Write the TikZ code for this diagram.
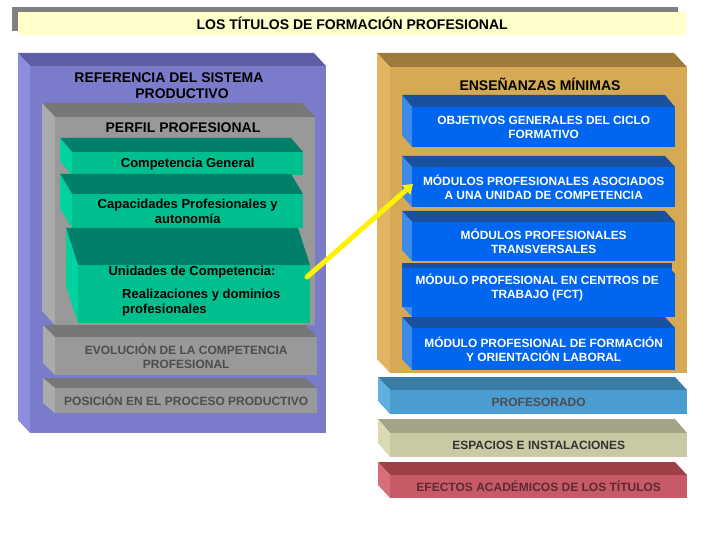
\documentclass[tikz,border=0pt]{standalone}
\usepackage{fontspec}
\setmainfont{Liberation Sans}
\usetikzlibrary{arrows.meta}
\definecolor{purF}{HTML}{7B7BCB}\definecolor{purT}{HTML}{5E5EA6}\definecolor{purL}{HTML}{8C8CE0}
\definecolor{gryF}{HTML}{999999}\definecolor{gryT}{HTML}{777777}\definecolor{gryL}{HTML}{ABABAB}
\definecolor{grnF}{HTML}{00BF8F}\definecolor{grnT}{HTML}{008068}\definecolor{grnL}{HTML}{00D2A0}
\definecolor{gldF}{HTML}{D6A954}\definecolor{gldT}{HTML}{A07A3A}\definecolor{gldL}{HTML}{E3B563}
\definecolor{bluF}{HTML}{0066F0}\definecolor{bluT}{HTML}{1A50A0}\definecolor{bluL}{HTML}{3D8BE8}
\definecolor{proF}{HTML}{4B9CD0}\definecolor{proT}{HTML}{3B7CA6}\definecolor{proL}{HTML}{5FB0E0}
\definecolor{espF}{HTML}{C9C9A3}\definecolor{espT}{HTML}{A3A387}\definecolor{espL}{HTML}{DADAB4}
\definecolor{efeF}{HTML}{C75A66}\definecolor{efeT}{HTML}{9E4048}\definecolor{efeL}{HTML}{D86E78}
\definecolor{titY}{HTML}{FFFFCC}\definecolor{titG}{HTML}{808080}
\definecolor{dkgray}{HTML}{4D4D4D}
\newcommand\bx[9]{%
  \fill[#8T] (#2-#6,#3-#7) -- (#4-#6,#3-#7) -- (#4,#3) -- (#2,#3) -- cycle;
  \fill[#8L] (#2-#6,#3-#7) -- (#2,#3) -- (#2,#5) -- (#2-#6,#5-#7) -- cycle;
  \node[face, fill=#8F, minimum width=#4-#2, minimum height=#5-#3, anchor=north west] (#1) at (#2,#3) {#9};
}
\tikzset{
  face/.style={inner sep=0pt, draw=none, align=center},
  bigtxt/.style={font=\fontsize{14}{16}\selectfont\bfseries, align=center, inner sep=0pt},
  grntxt/.style={font=\fontsize{13}{15}\selectfont\bfseries, text=black},
  blutxt/.style={font=\fontsize{11.9}{14}\selectfont\bfseries, text=white},
  grytxt/.style={font=\fontsize{12}{14}\selectfont\bfseries, text=dkgray},
  arrowY/.style={draw=yellow, line width=5pt, line cap=round, -{Triangle[length=9pt,width=12pt]}},
}
\begin{document}
\begin{tikzpicture}[x=1pt,y=-1pt]
\useasboundingbox (0,0) rectangle (720,540);
% title
\fill[titG] (12,7) rectangle (678,31);
\node[fill=titY, minimum width=668, minimum height=23, anchor=north west, inner sep=0pt,
  font=\fontsize{14}{16}\selectfont\bfseries] (title) at (18,12) {LOS TÍTULOS DE FORMACIÓN PROFESIONAL};
% left purple block
\bx{ref}{30}{66}{326}{433}{12}{13}{pur}{}
\bx{perfil}{55}{117}{315}{325}{13}{14}{gry}{}
\begin{scope}[every node/.append style={grntxt}]
\bx{compg}{72}{152}{303}{175}{12}{14}{grn}{Competencia General}
\bx{capac}{72}{194}{303}{228}{12}{20}{grn}{Capacidades Profesionales y\\autonomía}
\bx{unid}{78}{265}{310}{323}{12}{37}{grn}{}
\end{scope}
\begin{scope}[every node/.append style={grytxt}]
\bx{evol}{55}{337}{317}{375}{12}{12}{gry}{EVOLUCIÓN DE LA COMPETENCIA\\PROFESIONAL}
\bx{posic}{55}{388}{317}{413}{12}{10}{gry}{POSICIÓN EN EL PROCESO PRODUCTIVO}
\end{scope}
\node[bigtxt] (tref) at (169,86) {REFERENCIA DEL SISTEMA\\\hspace*{26pt}PRODUCTIVO};
\node[bigtxt] (tperf) at (183,128) {PERFIL PROFESIONAL};
\node[grntxt, inner sep=0pt] (tunid) at (192,272) {Unidades de Competencia:};
\node[grntxt, inner sep=0pt, align=left, anchor=north west] (treal) at (122,289) {Realizaciones y dominios\\profesionales};
% right gold block
\bx{ens}{390}{67}{687}{373}{13}{14}{gld}{}
\node[bigtxt] (tens) at (540,84) {ENSEÑANZAS MÍNIMAS};
\begin{scope}[every node/.append style={blutxt}]
\bx{obj}{412}{107}{675}{147}{10}{12}{blu}{OBJETIVOS GENERALES DEL CICLO\\FORMATIVO}
\bx{masoc}{412}{167}{675}{207}{10}{11}{blu}{MÓDULOS PROFESIONALES ASOCIADOS\\A UNA UNIDAD DE COMPETENCIA}
\bx{mtrans}{412}{222}{675}{261}{10}{11}{blu}{MÓDULOS PROFESIONALES\\TRANSVERSALES}
\bx{fctb}{412}{274}{675}{317}{10}{11}{blu}{}
\fill[bluT] (402,263) rectangle (672,268);
\node[face, fill=bluF, minimum width=270, minimum height=39, anchor=north west] (fct) at (402,268) {MÓDULO PROFESIONAL EN CENTROS DE\\TRABAJO (FCT)};
\bx{fol}{412}{328}{675}{370}{10}{11}{blu}{MÓDULO PROFESIONAL DE FORMACIÓN\\Y ORIENTACIÓN LABORAL}
\end{scope}
\begin{scope}[every node/.append style={grytxt}]
\bx{prof}{390}{390}{687}{414}{12}{13}{pro}{PROFESORADO}
\bx{esp}{390}{433}{687}{457}{12}{14}{esp}{\textcolor{black!80}{ESPACIOS E INSTALACIONES}}
\bx{efe}{390}{475}{687}{498}{12}{13}{efe}{\textcolor[HTML]{5E2A32}{EFECTOS ACADÉMICOS DE LOS TÍTULOS}}
\end{scope}
% arrow
\coordinate (aS) at (307,277);
\coordinate (aE) at (413,184);
\draw[arrowY] (aS) -- (aE);
\end{tikzpicture}
\end{document}
